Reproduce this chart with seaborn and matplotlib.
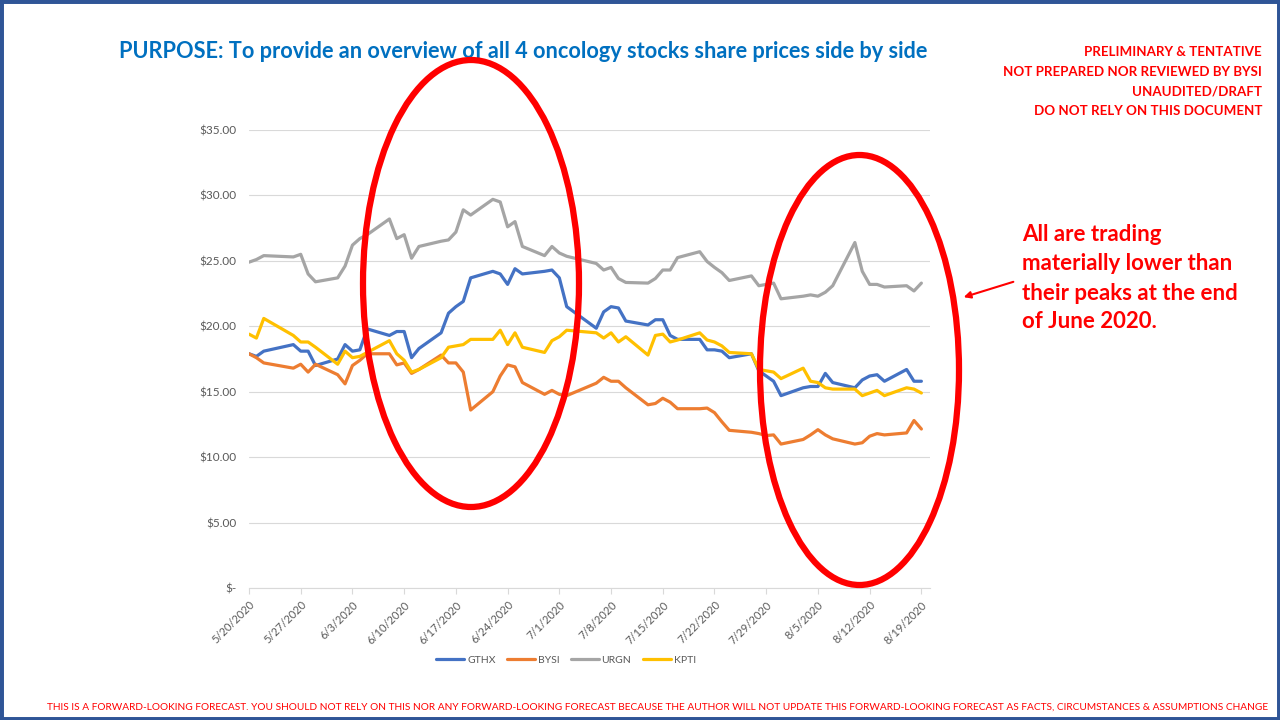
import matplotlib
matplotlib.use("Agg")
import matplotlib.pyplot as plt
import seaborn as sns
import pandas as pd
from matplotlib.patches import Ellipse, Rectangle
from matplotlib.lines import Line2D

# ---------------- data ----------------
dates = [
    "2020-05-20", "2020-05-21", "2020-05-22", "2020-05-26", "2020-05-27", "2020-05-28", "2020-05-29",
    "2020-06-01", "2020-06-02", "2020-06-03", "2020-06-04", "2020-06-05",
    "2020-06-08", "2020-06-09", "2020-06-10", "2020-06-11", "2020-06-12",
    "2020-06-15", "2020-06-16", "2020-06-17", "2020-06-18", "2020-06-19",
    "2020-06-22", "2020-06-23", "2020-06-24", "2020-06-25", "2020-06-26",
    "2020-06-29", "2020-06-30", "2020-07-01", "2020-07-02",
    "2020-07-06", "2020-07-07", "2020-07-08", "2020-07-09", "2020-07-10",
    "2020-07-13", "2020-07-14", "2020-07-15", "2020-07-16", "2020-07-17",
    "2020-07-20", "2020-07-21", "2020-07-22", "2020-07-23", "2020-07-24",
    "2020-07-27", "2020-07-28", "2020-07-29", "2020-07-30", "2020-07-31",
    "2020-08-03", "2020-08-04", "2020-08-05", "2020-08-06", "2020-08-07",
    "2020-08-10", "2020-08-11", "2020-08-12", "2020-08-13", "2020-08-14",
    "2020-08-17", "2020-08-18", "2020-08-19",
]

gthx = [17.9, 17.7, 18.1, 18.6, 18.1, 18.1, 17.0,
        17.5, 18.6, 18.1, 18.2, 19.8,
        19.3, 19.6, 19.6, 17.6, 18.3,
        19.5, 21.0, 21.5, 21.9, 23.7,
        24.2, 24.0, 23.2, 24.4, 24.0,
        24.2, 24.3, 23.7, 21.5,
        19.85, 21.1, 21.5, 21.4, 20.4,
        20.1, 20.5, 20.5, 19.3, 19.0,
        19.0, 18.2, 18.2, 18.1, 17.6,
        17.9, 16.6, 16.2, 15.8, 14.7,
        15.3, 15.4, 15.4, 16.4, 15.7,
        15.3, 15.9, 16.2, 16.3, 15.8,
        16.7, 15.8, 15.8]

bysi = [17.9, 17.6, 17.2, 16.8, 17.1, 16.5, 17.1,
        16.3, 15.6, 17.0, 17.4, 17.9,
        17.9, 17.05, 17.2, 16.4, 16.7,
        17.8, 17.2, 17.2, 16.5, 13.6,
        15.0, 16.2, 17.05, 16.9, 15.7,
        14.8, 15.1, 14.8, 14.7,
        15.65, 16.1, 15.8, 15.8, 15.3,
        14.0, 14.1, 14.5, 14.2, 13.7,
        13.7, 13.75, 13.4, 12.7, 12.05,
        11.9, 11.8, 11.65, 11.7, 11.0,
        11.35, 11.7, 12.1, 11.7, 11.4,
        11.0, 11.1, 11.6, 11.8, 11.7,
        11.85, 12.8, 12.15]

urgn = [24.9, 25.1, 25.4, 25.3, 25.5, 24.0, 23.4,
        23.7, 24.6, 26.2, 26.7, 27.0,
        28.2, 26.7, 27.0, 25.2, 26.1,
        26.5, 26.6, 27.2, 28.9, 28.5,
        29.7, 29.5, 27.6, 28.0, 26.1,
        25.4, 26.1, 25.6, 25.35,
        24.8, 24.3, 24.5, 23.65, 23.35,
        23.3, 23.65, 24.3, 24.3, 25.25,
        25.7, 24.95, 24.5, 24.1, 23.5,
        23.85, 23.1, 23.2, 23.3, 22.1,
        22.3, 22.4, 22.3, 22.6, 23.1,
        26.4, 24.2, 23.2, 23.2, 23.0,
        23.1, 22.7, 23.3]

kpti = [19.4, 19.1, 20.6, 19.3, 18.8, 18.8, 18.4,
        17.1, 18.1, 17.6, 17.7, 18.0,
        18.9, 17.9, 17.4, 16.5, 16.7,
        17.6, 18.4, 18.5, 18.6, 19.0,
        19.0, 19.7, 18.6, 19.5, 18.4,
        18.0, 18.9, 19.2, 19.7,
        19.5, 19.1, 19.5, 18.8, 19.2,
        17.8, 19.3, 19.4, 18.8, 18.95,
        19.5, 18.95, 18.8, 18.5, 18.0,
        17.9, 16.7, 16.6, 16.5, 16.0,
        16.8, 15.8, 15.7, 15.3, 15.2,
        15.2, 14.7, 14.9, 15.1, 14.7,
        15.3, 15.2, 14.9]

tickers = ["GTHX", "BYSI", "URGN", "KPTI"]
series = {"GTHX": gthx, "BYSI": bysi, "URGN": urgn, "KPTI": kpti}
colors = {"GTHX": "#4472C4", "BYSI": "#ED7D31", "URGN": "#A5A5A5", "KPTI": "#FFC000"}

y_ticks = [0, 5, 10, 15, 20, 25, 30, 35]
y_labels = ["$-", "$5.00", "$10.00", "$15.00", "$20.00", "$25.00", "$30.00", "$35.00"]

title = "PURPOSE: To provide an overview of all 4 oncology stocks share prices side by side"
disclaimer = ["PRELIMINARY & TENTATIVE", "NOT PREPARED NOR REVIEWED BY BYSI",
              "UNAUDITED/DRAFT", "DO NOT RELY ON THIS DOCUMENT"]
note = ["All are trading", "materially lower than", "their peaks at the end", "of June 2020."]
footer = ("THIS IS A FORWARD-LOOKING FORECAST. YOU SHOULD NOT RELY ON THIS NOR ANY FORWARD-LOOKING "
          "FORECAST BECAUSE THE AUTHOR WILL NOT UPDATE THIS FORWARD-LOOKING FORECAST AS FACTS, "
          "CIRCUMSTANCES & ASSUMPTIONS CHANGE")

# ---------------- frame ----------------
df = pd.DataFrame({
    "Date": pd.to_datetime(dates * len(tickers)),
    "Price": sum((series[t] for t in tickers), []),
    "Ticker": sum(([t] * len(dates) for t in tickers), []),
})

sns.set_theme(style="white")
plt.rcParams["font.family"] = ["Lato", "DejaVu Sans"]

W, H = 1280, 720
fig = plt.figure(figsize=(12.8, 7.2), dpi=100)
fig.patch.set_facecolor("white")


def fx(px):
    return px / W


def fy(py):
    return 1 - py / H


ax = fig.add_axes([fx(249), fy(588), fx(930 - 249), (588 - 130) / H])

sns.lineplot(data=df, x="Date", y="Price", hue="Ticker", hue_order=tickers,
             palette=colors, linewidth=2.3, ax=ax, legend=False)

ax.set_xlim(pd.Timestamp("2020-05-20"), pd.Timestamp("2020-08-20 04:00"))
ax.set_ylim(0, 35)
xt = pd.date_range("2020-05-20", "2020-08-19", freq="7D")
ax.set_xticks(xt)
ax.set_xticklabels([f"{d.month}/{d.day}/{d.year}" for d in xt], rotation=45,
                   ha="right", rotation_mode="anchor", color="#595959", fontsize=8)
ax.set_yticks(y_ticks)
ax.set_yticklabels(y_labels, color="#595959", fontsize=8.5)
ax.set_xlabel("")
ax.set_ylabel("")
ax.yaxis.grid(True, color="#D9D9D9", linewidth=0.8)
ax.xaxis.grid(False)
for s in ["left", "right", "top"]:
    ax.spines[s].set_visible(False)
ax.spines["bottom"].set_color("#D9D9D9")
ax.spines["bottom"].set_linewidth(0.8)
ax.tick_params(axis="y", length=0, pad=9)
ax.tick_params(axis="x", length=4, color="#D9D9D9", width=0.8, pad=4, bottom=True)

handles = [Line2D([0], [0], color=colors[t], lw=2.3) for t in tickers]
leg = fig.legend(handles, tickers, loc="center", bbox_to_anchor=(fx(566), fy(660)),
                 ncol=4, frameon=False, fontsize=7.5, handlelength=2.7,
                 handletextpad=0.25, columnspacing=1.1)
for t in leg.get_texts():
    t.set_color("#595959")

# ---------------- texts ----------------
fig.text(fx(523), fy(52), title, ha="center", va="center", color="#0070C0",
         fontsize=15.7, fontweight="bold")
for i, line in enumerate(disclaimer):
    fig.text(fx(1262), fy(52 + i * 19.7), line, ha="right", va="center",
             color="#FF0000", fontsize=9.6, fontweight="bold")
for i, line in enumerate(note):
    fig.text(fx(1022), fy(235 + i * 29), line, ha="left", va="center",
             color="#FF0000", fontsize=16, fontweight="bold")
fig.text(fx(658), fy(707), footer, ha="center", va="center", color="#FF0000",
         fontsize=7.27)

# ---------------- shapes ----------------
fig.add_artist(Ellipse((fx(471), fy(283.5)), fx(216), 447 / H, transform=fig.transFigure,
                       fill=False, edgecolor="#FF0000", linewidth=4.5, zorder=5))
fig.add_artist(Ellipse((fx(859.5), fy(370)), fx(199), 430 / H, transform=fig.transFigure,
                       fill=False, edgecolor="#FF0000", linewidth=4.5, zorder=5))
ax.annotate("", xy=(961, H - 298), xycoords="figure pixels",
            xytext=(1016, H - 281), textcoords="figure pixels",
            arrowprops=dict(arrowstyle="-|>", color="#FF0000", lw=1.5, mutation_scale=10),
            annotation_clip=False)
fig.add_artist(Rectangle((0, 0), 1, 1, transform=fig.transFigure, fill=False,
                         edgecolor="#2F5597", linewidth=5, zorder=10))

fig.savefig("out.png", dpi=100)
